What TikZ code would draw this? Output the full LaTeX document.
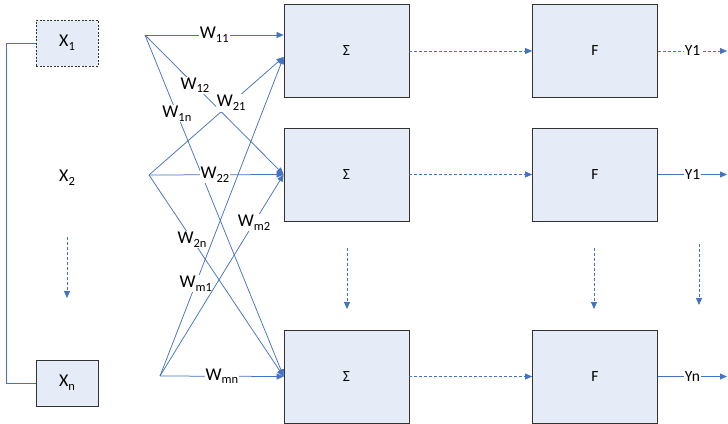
\documentclass[tikz,border=0pt]{standalone}
\usepackage{fontspec}
\setmainfont{Carlito}
\usetikzlibrary{arrows.meta,positioning,calc}
\definecolor{cLine}{HTML}{4472C4}
\definecolor{cFill}{HTML}{E6ECF7}
\definecolor{cEdge}{HTML}{333333}

% lowered index for the weights and inputs
\newcommand\idx[1]{\raisebox{-0.2em}{\fontsize{12.5}{13}\selectfont #1}}

\begin{document}
\begin{tikzpicture}[
  x=1pt, y=-1pt,
  font=\fontsize{18}{20}\selectfont,
  box/.style={draw=cEdge, fill=cFill, line width=0.8pt, inner sep=0pt,
              minimum width=125pt, minimum height=93pt,
              font=\fontsize{15.5}{17}\selectfont},
  inbox/.style={box, minimum width=62pt, minimum height=46pt,
                font=\fontsize{18}{20}\selectfont},
  arr/.style={-{Triangle[length=7pt,width=6pt]}, cLine, line width=0.75pt},
  dasharr/.style={arr, dash pattern=on 3pt off 2pt},
  wlab/.style={fill=white, inner sep=1pt, text=black},
  ylab/.style={wlab, font=\fontsize{15.5}{17}\selectfont},
]
\useasboundingbox (0,0) rectangle (728,423);

% ---------- inputs ----------
\node[inbox, dash pattern=on 2pt off 1.5pt] (x1) at (67,43) {X\idx{1}};
\node (x2) at (67,178) {X\idx{2}};
\node[inbox] (xn) at (67,383) {X\idx{n}};
\coordinate (xdots1) at (67,237);
\coordinate (xdots2) at (67,298);
\draw[dasharr] (xdots1) -- (xdots2);
\draw[cLine, line width=0.75pt] (x1.west) -- ++(-29,0) |- (xn.west);

% ---------- summing and activation units ----------
\node[box] (sum1) at (346.5,51) {Σ};
\node[box] (sum2) at (346.5,174.5) {Σ};
\node[box] (sum3) at (346.5,376.5) {Σ};
\node[box] (act1) at (595,51) {F};
\node[box] (act2) at (595,174.5) {F};
\node[box] (act3) at (595,376.5) {F};

\draw[dasharr] (sum1) -- (act1);
\draw[dasharr] (sum2) -- (act2);
\draw[dasharr] (sum3) -- (act3);

% ---------- outputs ----------
\coordinate (out1) at (727,51);
\coordinate (out2) at (727,174.5);
\coordinate (out3) at (727,376.5);
\draw[dasharr] (act1) -- node[ylab] {Y1} (out1);
\draw[arr] (act2) -- node[ylab] {Y1} (out2);
\draw[arr] (act3) -- node[ylab] {Yn} (out3);

% ---------- dots between rows ----------
\coordinate (sdots1) at (347,248);
\coordinate (sdots2) at (347,309);
\coordinate (adots1) at (594,248);
\coordinate (adots2) at (594,309);
\coordinate (ydots1) at (699,244);
\coordinate (ydots2) at (699,305);
\draw[dasharr] (sdots1) -- (sdots2);
\draw[dasharr] (adots1) -- (adots2);
\draw[dasharr] (ydots1) -- (ydots2);

% ---------- weights ----------
\coordinate (src1) at (145,35);
\coordinate (src2) at (149,175);
\coordinate (src3) at (160,376);
\coordinate (t1a) at ($(sum1.west)+(0,-16)$);
\coordinate (t1b) at ($(sum1.west)+(0,6)$);
\coordinate (t2) at (sum2.west);
\coordinate (t3) at (sum3.west);

\draw[arr] (src1) -- node[wlab, pos=0.5] {W\idx{11}} (t1a);
\draw[arr] (src1) -- node[wlab, pos=0.36] {W\idx{12}} (t2);
\draw[arr] (src1) -- node[wlab, pos=0.23] {W\idx{1n}} (t3);
\draw[arr] (src2) -- node[wlab, pos=0.61] {W\idx{21}} (t1b);
\draw[arr] (src2) -- node[wlab, pos=0.49] {W\idx{22}} (t2);
\draw[arr] (src2) -- node[wlab, pos=0.32] {W\idx{2n}} (t3);
\draw[arr] (src3) -- node[wlab, pos=0.29] {W\idx{m1}} (t1b);
\draw[arr] (src3) -- node[wlab, pos=0.76] {W\idx{m2}} (t2);
\draw[arr] (src3) -- node[wlab, pos=0.5] {W\idx{mn}} (t3);

\end{tikzpicture}
\end{document}
